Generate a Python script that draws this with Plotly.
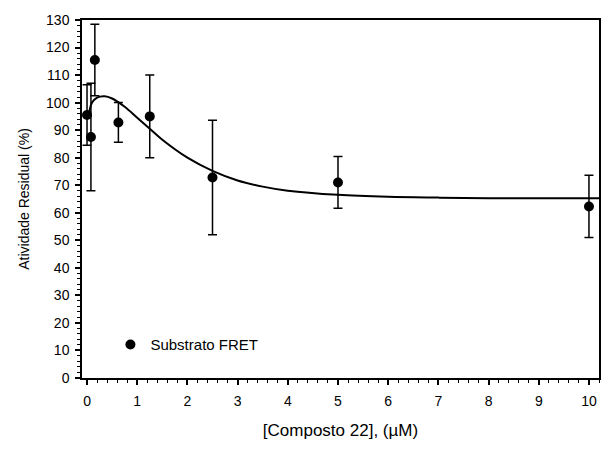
import plotly.graph_objects as go

conc = [0, 0.078, 0.156, 0.625, 1.25, 2.5, 5, 10]
activity = [95.5, 87.5, 115.5, 92.8, 95.0, 72.8, 71.0, 62.3]
err = [11.0, 19.5, 13.0, 7.2, 15.0, 20.8, 9.4, 11.3]

fit_x = [0.04, 0.1, 0.2, 0.35, 0.5, 0.75, 1.0, 1.25, 1.5, 2.0, 2.5, 3.0, 3.5, 4.0, 5.0, 6.0, 7.0, 8.0, 9.0, 10.2]
fit_y = [96, 100, 101.8, 102.3, 101.5, 98.5, 94.5, 90.5, 86.5, 80, 75.2, 71.7, 69.5, 68, 66.5, 65.8, 65.5, 65.3, 65.3, 65.3]

xticks = [0, 1, 2, 3, 4, 5, 6, 7, 8, 9, 10]
yticks = [0, 10, 20, 30, 40, 50, 60, 70, 80, 90, 100, 110, 120, 130]

FONT = "Liberation Sans, Arial, sans-serif"

fig = go.Figure()
fig.add_trace(go.Scatter(
    x=fit_x, y=fit_y, mode="lines", line=dict(color="black", width=2, shape="spline"),
    showlegend=False, hoverinfo="skip"))
fig.add_trace(go.Scatter(
    x=conc, y=activity, mode="markers", name="Substrato FRET",
    marker=dict(color="black", size=10),
    error_y=dict(type="data", array=err, visible=True, color="black", thickness=1.5, width=4.5)))

axis_common = dict(
    showline=True, linecolor="black", linewidth=1.5, mirror=True,
    ticks="outside", ticklen=5, tickwidth=1.5, tickcolor="black",
    showgrid=False, zeroline=False,
    tickfont=dict(family=FONT, size=14, color="black"),
)

fig.update_xaxes(
    range=[-0.1, 10.2], tickvals=xticks, ticktext=[str(t) for t in xticks],
    ticklabelstandoff=4,
    minor=dict(dtick=0.2, tick0=0, ticks="outside", ticklen=3, tickcolor="black", tickwidth=1),
    title=dict(text="[Composto 22], (µM)", font=dict(family=FONT, size=17, color="black"), standoff=17),
    **axis_common)
fig.update_yaxes(
    range=[0, 130], tickvals=yticks, ticktext=[str(t) for t in yticks],
    ticklabelstandoff=3,
    minor=dict(dtick=2, tick0=0, ticks="outside", ticklen=3, tickcolor="black", tickwidth=1),
    title=dict(text="Atividade Residual (%)", font=dict(family=FONT, size=14, color="black"), standoff=13),
    **axis_common)

fig.update_layout(
    width=613, height=450,
    margin=dict(l=82, r=14, t=13, b=72),
    paper_bgcolor="white", plot_bgcolor="white",
    font=dict(family=FONT, color="black"),
    showlegend=True,
    legend=dict(x=0.055, y=0.093, xanchor="left", yanchor="middle",
                bgcolor="rgba(0,0,0,0)", font=dict(family=FONT, size=15, color="black")),
)

fig.write_html("out.html")
